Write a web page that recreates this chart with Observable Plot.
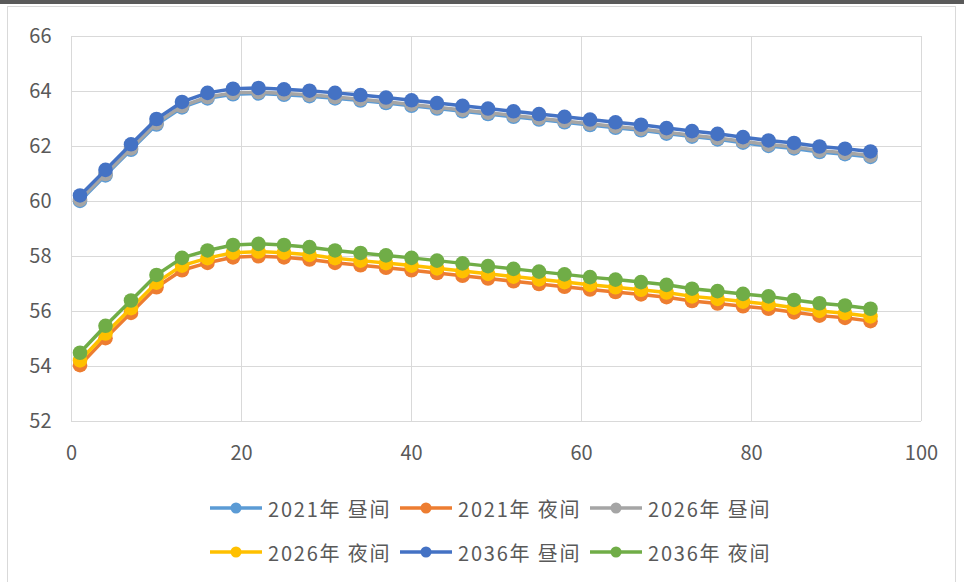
<!DOCTYPE html>
<html>
<head>
<meta charset="utf-8">
<script src="https://cdn.jsdelivr.net/npm/d3@7"></script>
<script src="https://cdn.jsdelivr.net/npm/@observablehq/plot@0.6"></script>
<style>
  html, body { margin: 0; padding: 0; background: #fff; }
  body { width: 964px; height: 582px; overflow: hidden; position: relative; font-family: "Noto Sans CJK SC", "Noto Sans", sans-serif; }
  #topbar { position: absolute; left: 0; top: 0; width: 964px; height: 4px; background: #5a5a5a; }
  #frame { position: absolute; left: 7px; top: 6px; width: 949px; height: 590px; border: 1px solid #d9d9d9; box-sizing: border-box; }
  #chart { position: absolute; left: 0; top: 0; }
  #legend { position: absolute; left: 210px; top: 486px; width: 600px; }
  .row { display: flex; height: 44px; align-items: center; }
  .item { display: flex; align-items: center; width: 190px; }
  .item span { font-size: 20px; color: #595959; margin-left: 6px; white-space: nowrap; letter-spacing: 1.8px; }
</style>
</head>
<body>
<div id="topbar"></div>
<div id="frame"></div>
<div id="chart"></div>
<div id="legend"></div>
<script>
const xs = [1,4,7,10,13,16,19,22,25,28,31,34,37,40,43,46,49,52,55,58,61,64,67,70,73,76,79,82,85,88,91,94];

const seriesNames = ["2021年 昼间","2021年 夜间","2026年 昼间","2026年 夜间","2036年 昼间","2036年 夜间"];
const seriesColors = ["#5B9BD5","#ED7D31","#A5A5A5","#FFC000","#4472C4","#70AD47"];

const day2021 = [60.02,60.95,61.88,62.80,63.42,63.75,63.90,63.93,63.88,63.83,63.75,63.67,63.58,63.48,63.38,63.28,63.18,63.08,62.98,62.88,62.78,62.68,62.59,62.47,62.36,62.26,62.14,62.02,61.93,61.80,61.72,61.62];
const night2021 = [54.05,55.03,55.95,56.88,57.50,57.77,57.97,58.01,57.97,57.89,57.77,57.68,57.59,57.50,57.40,57.30,57.20,57.10,57.00,56.90,56.80,56.71,56.62,56.52,56.38,56.29,56.19,56.10,55.97,55.85,55.77,55.65];
const day2026 = [60.07,61.00,61.93,62.85,63.47,63.80,63.95,63.98,63.93,63.88,63.80,63.72,63.63,63.53,63.43,63.33,63.23,63.13,63.03,62.93,62.83,62.73,62.64,62.52,62.41,62.31,62.19,62.07,61.98,61.85,61.77,61.67];
const night2026 = [54.22,55.20,56.12,57.05,57.67,57.94,58.14,58.18,58.14,58.06,57.94,57.85,57.76,57.67,57.57,57.47,57.37,57.27,57.17,57.07,56.97,56.88,56.79,56.69,56.55,56.46,56.36,56.27,56.14,56.02,55.94,55.82];
const day2036 = [60.22,61.15,62.08,63.00,63.62,63.95,64.10,64.13,64.08,64.03,63.95,63.87,63.78,63.68,63.58,63.48,63.38,63.28,63.18,63.08,62.98,62.88,62.79,62.67,62.56,62.46,62.34,62.22,62.13,62.00,61.92,61.82];
const night2036 = [54.50,55.48,56.40,57.33,57.95,58.22,58.42,58.46,58.42,58.34,58.22,58.13,58.04,57.95,57.85,57.75,57.65,57.55,57.45,57.35,57.25,57.16,57.07,56.97,56.83,56.74,56.64,56.55,56.42,56.30,56.22,56.10];

const xTicks = [0,20,40,60,80,100];
const yTicks = [52,54,56,58,60,62,64,66];

const seriesValues = [day2021, night2021, day2026, night2026, day2036, night2036];

const seriesMarks = [];
seriesValues.forEach((vals, i) => {
  const rows = xs.map((x, j) => ({x, y: vals[j], s: seriesNames[i]}));
  seriesMarks.push(Plot.line(rows, {x: "x", y: "y", stroke: "s", strokeWidth: 3.5, curve: "linear"}));
  seriesMarks.push(Plot.dot(rows, {x: "x", y: "y", fill: "s", r: 7.3, stroke: "none"}));
});

const chart = Plot.plot({
  width: 964,
  height: 480,
  marginLeft: 71,
  marginRight: 43,
  marginTop: 36,
  marginBottom: 59,
  style: {fontFamily: "'Noto Sans CJK SC', 'Noto Sans', sans-serif", background: "transparent", color: "#595959"},
  x: {domain: [0, 100]},
  y: {domain: [52, 66]},
  color: {domain: seriesNames, range: seriesColors},
  marks: [
    Plot.gridX(xTicks, {stroke: "#d9d9d9", strokeOpacity: 1, strokeWidth: 1}),
    Plot.gridY(yTicks, {stroke: "#d9d9d9", strokeOpacity: 1, strokeWidth: 1}),
    Plot.axisX(xTicks, {tickSize: 0, tickPadding: 24, fontSize: 20, fill: "#595959", label: null}),
    Plot.axisY(yTicks, {tickSize: 0, tickPadding: 20, fontSize: 20, fill: "#595959", label: null}),
    ...seriesMarks
  ]
});
document.getElementById("chart").appendChild(chart);

// legend
const legend = document.getElementById("legend");
const order = [[0,1,2],[3,4,5]];
order.forEach(rowIdx => {
  const row = document.createElement("div");
  row.className = "row";
  rowIdx.forEach(i => {
    const item = document.createElement("div");
    item.className = "item";
    item.innerHTML = `<svg width="52" height="16"><line x1="0" y1="8" x2="52" y2="8" stroke="${seriesColors[i]}" stroke-width="3.5"/><circle cx="26" cy="8" r="5.5" fill="${seriesColors[i]}"/></svg><span>${seriesNames[i]}</span>`;
    row.appendChild(item);
  });
  legend.appendChild(row);
});
</script>
</body>
</html>
